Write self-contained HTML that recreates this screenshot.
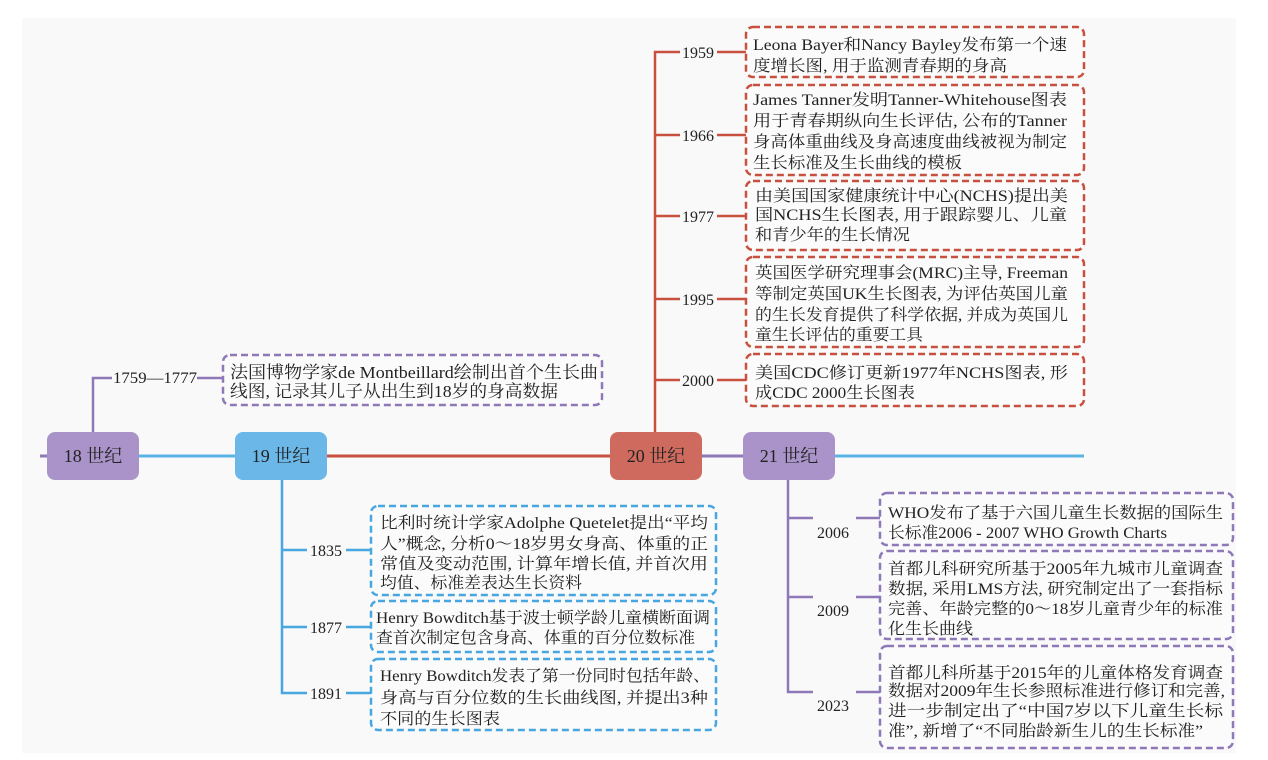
<!DOCTYPE html>
<html><head><meta charset="utf-8"><style>
body{margin:0;width:1268px;height:760px;background:#fff;overflow:hidden}
svg{display:block}
text{font-family:"Liberation Serif","Noto Serif CJK SC",serif;fill:#222}
.t{font-size:16px}
.yr{font-size:16px}
.cen{font-size:18px;text-anchor:middle}
</style></head><body>
<svg width="1268" height="760" viewBox="0 0 1268 760">
<rect x="22" y="18" width="1214" height="735" fill="#f9f9f9"/>
<line x1="40" y1="456" x2="48" y2="456" stroke="#8e78b8" stroke-width="3"/>
<line x1="139" y1="456" x2="235" y2="456" stroke="#5ab4e6" stroke-width="3"/>
<line x1="326" y1="456" x2="610" y2="456" stroke="#c8503f" stroke-width="3"/>
<line x1="702" y1="456" x2="743" y2="456" stroke="#8e78b8" stroke-width="3"/>
<line x1="834" y1="456" x2="1084" y2="456" stroke="#5ab4e6" stroke-width="3"/>
<rect x="47" y="432" width="92" height="48" rx="8" fill="#a993c8"/>
<rect x="235" y="432" width="92" height="48" rx="8" fill="#6bb8e8"/>
<rect x="610" y="432" width="92" height="48" rx="8" fill="#cf6b5e"/>
<rect x="743" y="432" width="92" height="48" rx="8" fill="#a993c8"/>
<text class="cen" x="93" y="462">18 世纪</text>
<text class="cen" x="281" y="462">19 世纪</text>
<text class="cen" x="656" y="462">20 世纪</text>
<text class="cen" x="789" y="462">21 世纪</text>

<g stroke="#8e78b8" stroke-width="2.5" fill="none">
<path d="M93 432 V378 H112"/><line x1="197" y1="378" x2="222" y2="378"/>
<rect x="223" y="355" width="379" height="50" rx="7" stroke-dasharray="7,4" fill="#fbfbfb"/>
</g>
<text class="yr" x="113" y="383" textLength="84" lengthAdjust="spacingAndGlyphs">1759—1777</text>
<text style="font-size:17px" x="230" y="378" textLength="368" lengthAdjust="spacingAndGlyphs">法国博物学家de Montbeillard绘制出首个生长曲</text>
<text style="font-size:17px" x="230" y="397" textLength="328" lengthAdjust="spacingAndGlyphs">线图, 记录其儿子从出生到18岁的身高数据</text>

<g stroke="#c8503f" stroke-width="2.5" fill="none">
<path d="M655 432 V52 H680"/>
<line x1="655" y1="135" x2="680" y2="135"/><line x1="655" y1="216" x2="680" y2="216"/>
<line x1="655" y1="299" x2="680" y2="299"/><line x1="655" y1="380" x2="680" y2="380"/>
<line x1="717" y1="52" x2="746" y2="52"/><line x1="717" y1="135" x2="746" y2="135"/>
<line x1="717" y1="216" x2="746" y2="216"/><line x1="717" y1="299" x2="746" y2="299"/>
<line x1="717" y1="380" x2="746" y2="380"/>
<g stroke-dasharray="7,4" fill="#fbfbfb">
<rect x="746" y="27" width="338" height="50" rx="7"/>
<rect x="746" y="85" width="338" height="90" rx="7"/>
<rect x="746" y="181" width="338" height="69" rx="7"/>
<rect x="746" y="257" width="338" height="90" rx="7"/>
<rect x="746" y="354" width="338" height="52" rx="7"/>
</g></g>
<text class="yr" x="682" y="58">1959</text>
<text class="yr" x="682" y="141">1966</text>
<text class="yr" x="682" y="222">1977</text>
<text class="yr" x="682" y="305">1995</text>
<text class="yr" x="682" y="386">2000</text>
<g class="t">
<text x="753" y="50" textLength="314" lengthAdjust="spacingAndGlyphs">Leona Bayer和Nancy Bayley发布第一个速</text>
<text x="753" y="71" textLength="254" lengthAdjust="spacingAndGlyphs">度增长图, 用于监测青春期的身高</text>
<text x="753" y="105" textLength="314" lengthAdjust="spacingAndGlyphs">James Tanner发明Tanner-Whitehouse图表</text>
<text x="753" y="126" textLength="314" lengthAdjust="spacingAndGlyphs">用于青春期纵向生长评估, 公布的Tanner</text>
<text x="753" y="147" textLength="314" lengthAdjust="spacingAndGlyphs">身高体重曲线及身高速度曲线被视为制定</text>
<text x="753" y="168" textLength="209" lengthAdjust="spacingAndGlyphs">生长标准及生长曲线的模板</text>
<text x="755" y="201" textLength="313" lengthAdjust="spacingAndGlyphs">由美国国家健康统计中心(NCHS)提出美</text>
<text x="755" y="220" textLength="312" lengthAdjust="spacingAndGlyphs">国NCHS生长图表, 用于跟踪婴儿、儿童</text>
<text x="755" y="240" textLength="155" lengthAdjust="spacingAndGlyphs">和青少年的生长情况</text>
<text x="755" y="278" textLength="313" lengthAdjust="spacingAndGlyphs">英国医学研究理事会(MRC)主导, Freeman</text>
<text x="755" y="299" textLength="313" lengthAdjust="spacingAndGlyphs">等制定英国UK生长图表, 为评估英国儿童</text>
<text x="755" y="320" textLength="313" lengthAdjust="spacingAndGlyphs">的生长发育提供了科学依据, 并成为英国儿</text>
<text x="755" y="340" textLength="168" lengthAdjust="spacingAndGlyphs">童生长评估的重要工具</text>
<text x="755" y="378" textLength="313" lengthAdjust="spacingAndGlyphs">美国CDC修订更新1977年NCHS图表, 形</text>
<text x="755" y="398" textLength="160" lengthAdjust="spacingAndGlyphs">成CDC 2000生长图表</text>
</g>

<g stroke="#48a6e0" stroke-width="2.5" fill="none">
<path d="M282 480 V693 H307"/>
<line x1="282" y1="550" x2="307" y2="550"/><line x1="282" y1="627" x2="307" y2="627"/>
<line x1="346" y1="550" x2="371" y2="550"/><line x1="346" y1="627" x2="371" y2="627"/><line x1="346" y1="693" x2="371" y2="693"/>
<g stroke-dasharray="7,4" fill="#fbfbfb">
<rect x="371" y="506" width="345" height="89" rx="7"/>
<rect x="371" y="601" width="345" height="51" rx="7"/>
<rect x="371" y="659" width="345" height="71" rx="7"/>
</g></g>
<text class="yr" x="310" y="556">1835</text>
<text class="yr" x="310" y="633">1877</text>
<text class="yr" x="310" y="699">1891</text>
<g class="t">
<text x="380" y="528" textLength="328" lengthAdjust="spacingAndGlyphs">比利时统计学家Adolphe Quetelet提出“平均</text>
<text x="380" y="549" textLength="328" lengthAdjust="spacingAndGlyphs">人”概念, 分析0～18岁男女身高、体重的正</text>
<text x="380" y="569" textLength="328" lengthAdjust="spacingAndGlyphs">常值及变动范围, 计算年增长值, 并首次用</text>
<text x="380" y="588" textLength="202" lengthAdjust="spacingAndGlyphs">均值、标准差表达生长资料</text>
<text x="376" y="623" textLength="334" lengthAdjust="spacingAndGlyphs">Henry Bowditch基于波士顿学龄儿童横断面调</text>
<text x="376" y="643" textLength="319" lengthAdjust="spacingAndGlyphs">查首次制定包含身高、体重的百分位数标准</text>
<text x="380" y="681" textLength="330" lengthAdjust="spacingAndGlyphs">Henry Bowditch发表了第一份同时包括年龄、</text>
<text x="380" y="703" textLength="328" lengthAdjust="spacingAndGlyphs">身高与百分位数的生长曲线图, 并提出3种</text>
<text x="380" y="724" textLength="120" lengthAdjust="spacingAndGlyphs">不同的生长图表</text>
</g>

<g stroke="#8e78b8" stroke-width="2.5" fill="none">
<path d="M788 480 V692 H813"/>
<line x1="788" y1="518" x2="813" y2="518"/><line x1="788" y1="597" x2="813" y2="597"/>
<line x1="856" y1="518" x2="880" y2="518"/><line x1="856" y1="597" x2="880" y2="597"/><line x1="856" y1="692" x2="880" y2="692"/>
<g stroke-dasharray="7,4" fill="#fbfbfb">
<rect x="880" y="493" width="353" height="52" rx="7"/>
<rect x="880" y="551" width="353" height="88" rx="7"/>
<rect x="880" y="646" width="353" height="102" rx="7"/>
</g></g>
<text class="yr" x="817" y="538">2006</text>
<text class="yr" x="817" y="616">2009</text>
<text class="yr" x="817" y="711">2023</text>
<g class="t">
<text x="888" y="518" textLength="335" lengthAdjust="spacingAndGlyphs">WHO发布了基于六国儿童生长数据的国际生</text>
<text x="888" y="538" textLength="279" lengthAdjust="spacingAndGlyphs">长标准2006 - 2007 WHO Growth Charts</text>
<text x="888" y="574" textLength="335" lengthAdjust="spacingAndGlyphs">首都儿科研究所基于2005年九城市儿童调查</text>
<text x="888" y="594" textLength="335" lengthAdjust="spacingAndGlyphs">数据, 采用LMS方法, 研究制定出了一套指标</text>
<text x="888" y="614" textLength="335" lengthAdjust="spacingAndGlyphs">完善、年龄完整的0～18岁儿童青少年的标准</text>
<text x="888" y="634" textLength="85" lengthAdjust="spacingAndGlyphs">化生长曲线</text>
<text x="888" y="678" textLength="335" lengthAdjust="spacingAndGlyphs">首都儿科所基于2015年的儿童体格发育调查</text>
<text x="888" y="696" textLength="337" lengthAdjust="spacingAndGlyphs">数据对2009年生长参照标准进行修订和完善,</text>
<text x="888" y="716" textLength="335" lengthAdjust="spacingAndGlyphs">进一步制定出了“中国7岁以下儿童生长标</text>
<text x="888" y="736" textLength="315" lengthAdjust="spacingAndGlyphs">准”, 新增了“不同胎龄新生儿的生长标准”</text>
</g>
</svg>
</body></html>
